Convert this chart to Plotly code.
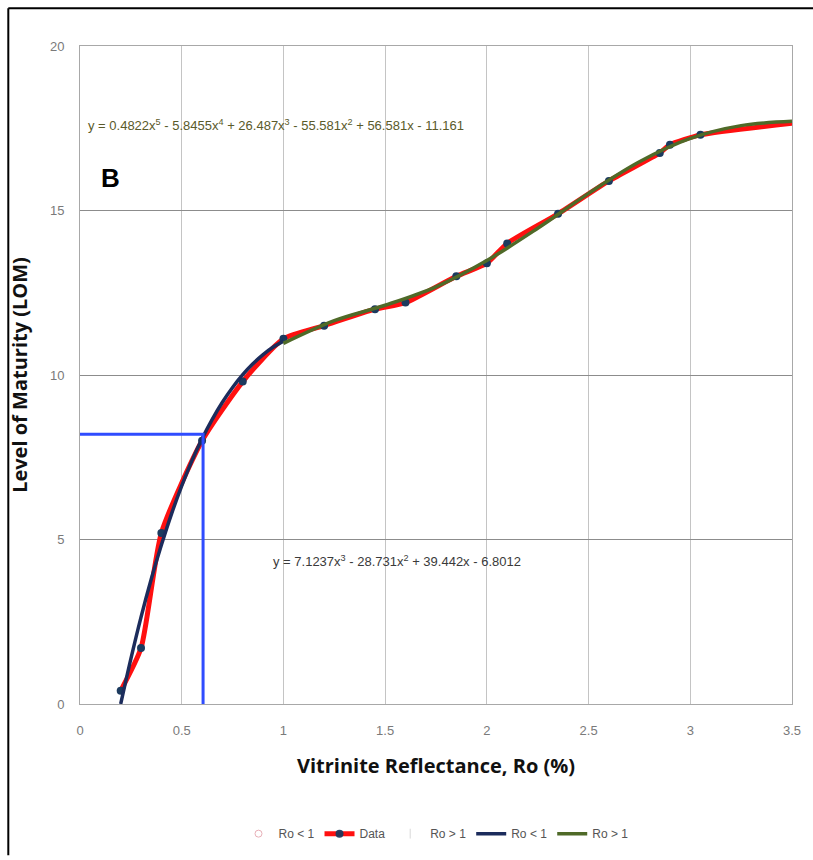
import plotly.graph_objects as go

# Measured data (Ro %, LOM)
ro_data = [0.2, 0.3, 0.4, 0.6, 0.8, 1.0, 1.2, 1.45, 1.6, 1.85, 2.0, 2.1, 2.35, 2.6, 2.85, 2.9, 3.05, 3.5]
lom_data = [0.4, 1.7, 5.2, 8.0, 9.8, 11.1, 11.5, 12.0, 12.2, 13.0, 13.4, 14.0, 14.9, 15.9, 16.75, 17.0, 17.3, 17.65]
marker_vis = [1] * 17 + [0]

# Trendline Ro < 1 (cubic)
ro_lt1 = [0.2, 0.25, 0.3, 0.35, 0.4, 0.45, 0.5, 0.55, 0.6, 0.65, 0.7, 0.75, 0.8, 0.85, 0.9, 0.95, 1.0]
lom_lt1 = [0.0, 1.37, 2.64, 3.79, 4.83, 5.78, 6.63, 7.39, 8.06, 8.65, 9.17, 9.62, 10.01, 10.34, 10.62, 10.85, 11.03]

# Trendline Ro > 1 (5th order)
ro_gt1 = [1.0, 1.25, 1.5, 1.75, 2.0, 2.25, 2.5, 2.75, 3.0, 3.25, 3.5]
lom_gt1 = [10.96, 11.65, 12.12, 12.68, 13.48, 14.46, 15.52, 16.48, 17.19, 17.58, 17.71]

# Blue guide lines
guide_x = [0, 0.605, 0.605]
guide_y = [8.2, 8.2, 0]

x_ticks = [0, 0.5, 1, 1.5, 2, 2.5, 3, 3.5]
x_tick_text = ["0", "0.5", "1", "1.5", "2", "2.5", "3", "3.5"]
y_ticks = [0, 5, 10, 15, 20]

eq_high = "y = 0.4822x<sup>5</sup> - 5.8455x<sup>4</sup> + 26.487x<sup>3</sup> - 55.581x<sup>2</sup> + 56.581x - 11.161"
eq_low = "y = 7.1237x<sup>3</sup> - 28.731x<sup>2</sup> + 39.442x - 6.8012"

fig = go.Figure()

fig.add_trace(go.Scatter(x=[None], y=[None], mode="markers", name="Ro < 1",
                         marker=dict(symbol="circle-open", size=7, color="#e8b0b8", line=dict(width=1))))
fig.add_trace(go.Scatter(x=ro_data, y=lom_data, mode="lines+markers", name="Data",
                         line=dict(color="#ff1010", width=5, shape="spline", smoothing=0.6),
                         marker=dict(color="#1c3a5e", size=8, opacity=marker_vis)))
fig.add_trace(go.Scatter(x=[None], y=[None], mode="markers", name="Ro > 1",
                         marker=dict(symbol="line-ns-open", size=7, color="#d8d8d8")))
fig.add_trace(go.Scatter(x=ro_lt1, y=lom_lt1, mode="lines", name="Ro < 1",
                         line=dict(color="#1c2c5c", width=3.5, shape="spline")))
fig.add_trace(go.Scatter(x=ro_gt1, y=lom_gt1, mode="lines", name="Ro > 1",
                         line=dict(color="#4f6a28", width=3.5, shape="spline")))
fig.add_trace(go.Scatter(x=guide_x, y=guide_y, mode="lines", showlegend=False,
                         line=dict(color="#2f4cff", width=3)))

fig.add_annotation(x=0.03, y=17.6, xref="x", yref="y", text=eq_high, showarrow=False,
                   xanchor="left", yanchor="middle",
                   font=dict(family="Liberation Sans Narrow, Arial Narrow, sans-serif", size=13, color="#5a5a2a"))
fig.add_annotation(x=0.94, y=4.35, xref="x", yref="y", text=eq_low, showarrow=False,
                   xanchor="left", yanchor="middle",
                   font=dict(family="Liberation Sans Narrow, Arial Narrow, sans-serif", size=13, color="#3a3a3a"))
fig.add_annotation(x=0.15, y=16.0, xref="x", yref="y", text="<b>B</b>", showarrow=False,
                   xanchor="center", yanchor="middle",
                   font=dict(family="Liberation Sans, Arial, sans-serif", size=26, color="#000000"))

# outer frame (top and left edges)
fig.add_shape(type="line", xref="paper", yref="paper", x0=-0.1007, x1=1.03, y0=1.0572, y1=1.0572,
              line=dict(color="#000000", width=2))
fig.add_shape(type="line", xref="paper", yref="paper", x0=-0.1007, x1=-0.1007, y0=1.0572, y1=-0.23,
              line=dict(color="#000000", width=2))

fig.update_layout(
    width=813, height=860,
    margin=dict(l=80, r=18, t=46, b=150),
    paper_bgcolor="white", plot_bgcolor="white",
    font=dict(family="Liberation Sans Narrow, Arial Narrow, sans-serif", color="#7a7a7a", size=13),
    legend=dict(orientation="h", x=0.5, xanchor="center", y=-0.175, yanchor="top",
                font=dict(size=12, color="#555555"), itemwidth=30, tracegroupgap=0),
    xaxis=dict(range=[0, 3.5], tickvals=x_ticks, ticktext=x_tick_text,
               showgrid=True, gridcolor="#c4c4c4", gridwidth=1,
               zeroline=False, showline=True, linecolor="#a8a8a8", linewidth=1, mirror=True,
               ticks="", ticklabelstandoff=14,
               title=dict(text="<b>Vitrinite Reflectance, Ro (%)</b>", standoff=22,
                          font=dict(family="Open Sans, sans-serif", size=20, color="#111111"))),
    yaxis=dict(range=[0, 20], tickvals=y_ticks,
               showgrid=True, gridcolor="#8c8c8c", gridwidth=1,
               zeroline=False, showline=True, linecolor="#a8a8a8", linewidth=1, mirror=True,
               ticks="", ticklabelstandoff=12,
               title=dict(text="<b>Level of Maturity (LOM)</b>", standoff=16,
                          font=dict(family="Open Sans, sans-serif", size=20, color="#111111"))),
)

fig.write_html("out.html")
